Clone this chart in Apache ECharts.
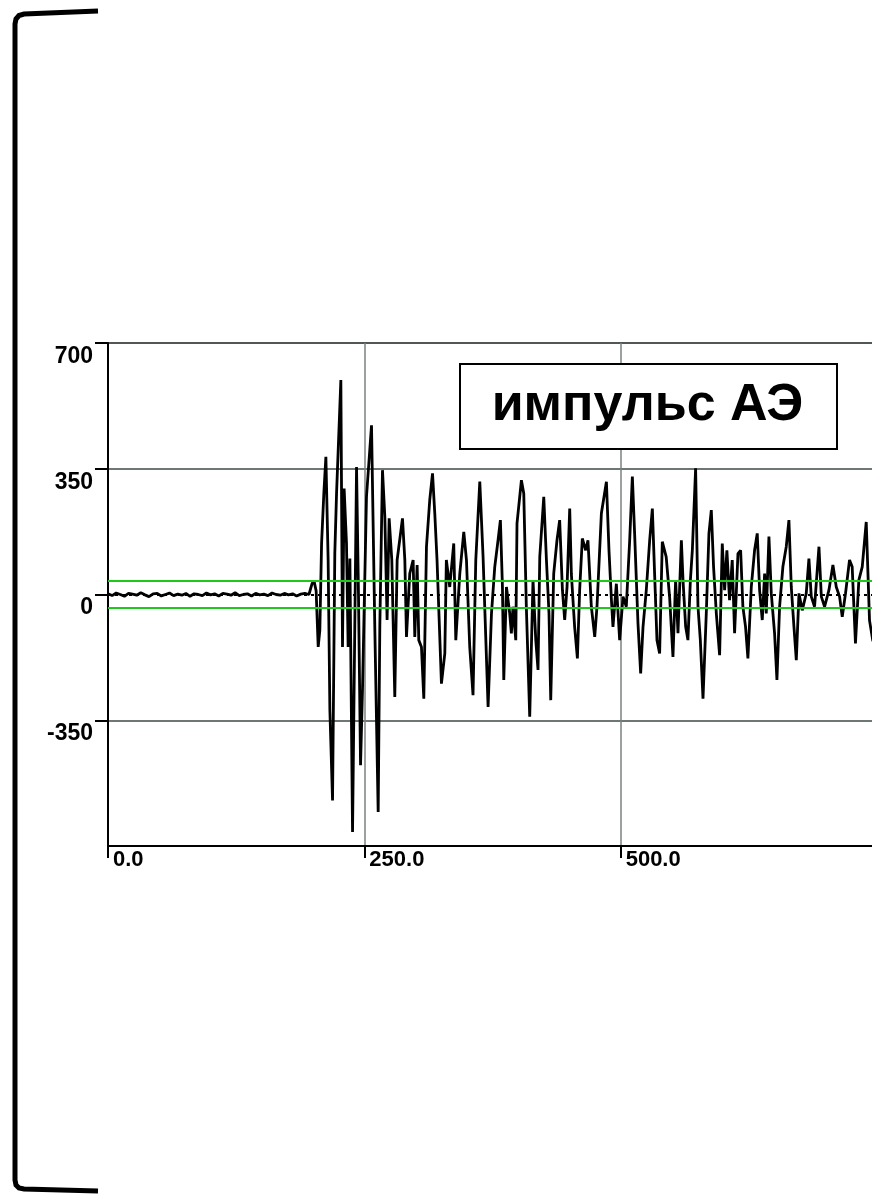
<!DOCTYPE html>
<html>
<head>
<meta charset="utf-8">
<title>импульс АЭ</title>
<script src="https://cdn.jsdelivr.net/npm/echarts@6/dist/echarts.min.js"></script>
<style>
    html, body { margin: 0; padding: 0; background: #fff; }
    #chart { width: 872px; height: 1195px; }
</style>
</head>
<body>
<div id="chart"></div>
<script>
// Время отсчёта (ось X)
const sampleTime = [
    0, 4, 8, 12, 16, 20, 24, 28, 32, 36,
    40, 44, 48, 52, 56, 60, 64, 68, 72, 76,
    80, 84, 88, 92, 96, 100, 104, 108, 112, 116,
    120, 124, 128, 132, 136, 140, 144, 148, 152, 156,
    160, 164, 168, 172, 176, 180, 184, 188, 192, 196,
    199, 201, 203, 205, 206.6, 208.3, 210.5, 212.5, 214.7, 216.4,
    219, 221.2, 222.9, 227.1, 228.7, 230.3, 232.6, 234.2, 235.9, 238.5,
    242.4, 244.3, 246.3, 248.2, 252.1, 257, 260.2, 263.5, 265.1, 267.7,
    270, 272.2, 274.2, 276.8, 279.7, 282, 287.2, 289.5, 291.1, 294.3,
    297.6, 299.2, 301.5, 303.1, 305.7, 308, 310.6, 313.8, 316.5, 318.7,
    320.9, 325.2, 328.5, 330, 333.3, 337.2, 339.2, 343.1, 347, 349.6,
    352.8, 356, 358.7, 362.6, 365.8, 370.7, 374, 377.2, 380.4, 382.7,
    384.7, 386, 388.6, 391.8, 393.4, 395, 397.7, 398.9, 403.2, 405.5,
    408, 411.3, 414.5, 417.2, 419.4, 421.1, 425, 427.6, 430.1, 431.8,
    434.7, 437.9, 440.5, 443.2, 445.4, 447.7, 450.3, 451.9, 455.1, 457.8,
    460, 462.6, 465.9, 468.1, 471.4, 474.7, 476.9, 481.2, 486.1, 488.6,
    491, 492.5, 495.8, 499, 502.3, 505.5, 508.8, 511.4, 513.6, 516.9,
    519.5, 521.8, 525, 528.3, 530.9, 533.1, 535.4, 538, 540.6, 544.4,
    547.8, 551, 553.6, 555.9, 559.2, 560.8, 563.4, 565.6, 568, 569.9,
    573.1, 575.4, 577.7, 580.3, 583.5, 586.1, 588.4, 590.6, 593.3, 596.5,
    599.1, 601.4, 603.6, 606.2, 608.8, 611.1, 614.4, 617, 619.2, 621.8,
    624.1, 627.4, 630.6, 633.2, 635.5, 638.1, 640.4, 642, 644.6, 646.9,
    650.1, 652.4, 655, 658.2, 661.5, 664.1, 666.4, 669, 671.3, 673.9,
    677.1, 681, 683.6, 685.9, 689.1, 693.4, 695.7, 698.9, 703.1, 707,
    710.3, 713.5, 716.1, 719.3, 723.2, 725.8, 729, 732.3, 735.6, 739.5,
    742.7, 746, 750
];

// Амплитуда сигнала
const amplitude = [
    2, -3, 4, 0, -5, 3, 1, -2, 5, -1,
    -6, 2, 3, -4, 0, 4, -3, 1, -2, 3,
    -5, 2, 0, -3, 4, -1, 2, -4, 3, 1,
    -2, 5, -3, 0, 2, -4, 3, -1, 1, -3,
    4, 0, -2, 3, -1, 2, -4, 1, 3, 0,
    30, 37, 10, -146, -100, 142, 281, 383, 96, -322,
    -573, 114, 281, 597, -146, 295, 142, -146, 100, -661,
    355, 0, -475, -266, 272, 471, -90, -605, -90, 346,
    216, -71, 212, 96, -285, 96, 212, 96, -118, 58,
    96, -118, 82, -127, -146, -290, 133, 263, 337, 226,
    96, -248, -164, 96, 21, 142, -127, 58, 174, 96,
    -146, -280, 96, 314, 105, -313, -53, 77, 151, 207,
    21, -238, 21, -53, -108, -34, -127, 198, 318, 281,
    -34, -340, 40, -127, -210, 105, 272, 96, -53, -294,
    58, 151, 207, 12, -71, 21, 239, 58, -90, -178,
    12, 156, 123, 151, -34, -118, -34, 226, 314, 123,
    -16, -90, 30, -127, -6, -34, 151, 328, 170, -81,
    -220, -90, 12, 151, 239, 58, -127, -164, 147, 105,
    -10, -174, 40, -108, 151, 40, -90, -127, 40, 123,
    351, -34, -127, -290, -53, 170, 235, 77, -53, -169,
    142, 12, 123, -16, 96, -108, 114, 123, -34, -90,
    -178, 21, 123, 170, 12, -71, 58, -53, 161, 3,
    -108, -238, -34, 77, 133, 207, 21, -90, -183, 3,
    -44, 3, 100, -6, -34, 133, -6, -34, 12, 82,
    21, -6, -62, 3, 96, 77, -136, 40, 77, 202,
    -72, -130, -60
];

const yTickValues = [-350, 0, 350, 700];
const thresholdLevel = 38;
const boxLabel = 'импульс АЭ';

document.addEventListener('DOMContentLoaded', () => {
    const chart = echarts.init(document.getElementById('chart'));
    const fontFamily = '"Liberation Sans", Arial, sans-serif';

    const option = {
        animation: false,
        backgroundColor: '#fff',
        grid: {
            left: 108,
            top: 343,
            width: 769,
            height: 503,
            outerBoundsMode: 'none'
        },
        xAxis: {
            type: 'value',
            min: 0,
            max: 750,
            interval: 250,
            axisLine: { show: true, onZero: false, lineStyle: { color: '#000', width: 2 } },
            axisTick: { show: true, length: 12, lineStyle: { color: '#000', width: 2 } },
            axisLabel: {
                formatter: v => v.toFixed(1),
                align: 'left',
                verticalAlign: 'top',
                margin: 3,
                padding: [0, 0, 0, 5],
                color: '#000',
                fontSize: 22,
                fontWeight: 'bold',
                fontFamily: fontFamily
            },
            splitLine: { show: true, lineStyle: { color: '#7a8282', width: 1.5 } }
        },
        yAxis: {
            type: 'value',
            min: -700,
            max: 700,
            interval: 350,
            axisLine: { show: true, lineStyle: { color: '#000', width: 2 } },
            axisTick: { show: true, length: 13, customValues: yTickValues, lineStyle: { color: '#000', width: 2 } },
            axisLabel: {
                customValues: yTickValues,
                formatter: v => String(v),
                verticalAlign: 'top',
                margin: 15,
                padding: [2, 0, 0, 0],
                color: '#000',
                fontSize: 23,
                fontWeight: 'bold',
                fontFamily: fontFamily
            },
            splitLine: {
                show: true,
                lineStyle: {
                    // -350, 0, 350, 700
                    color: ['#6e7676', 'rgba(0,0,0,0)', '#6e7676', '#4f5757'],
                    width: 2
                }
            }
        },
        series: [
            {
                name: 'АЭ',
                type: 'line',
                data: sampleTime.map((t, i) => [t, amplitude[i]]),
                symbol: 'none',
                lineStyle: { color: '#000', width: 2.8 },
                z: 3
            },
            {
                // пороговые уровни и нулевая линия
                type: 'line',
                data: [],
                z: 5,
                markLine: {
                    silent: true,
                    symbol: 'none',
                    label: { show: false },
                    data: [
                        { yAxis: thresholdLevel, lineStyle: { color: '#1ec81e', width: 2, type: 'solid' } },
                        { yAxis: -thresholdLevel, lineStyle: { color: '#1ec81e', width: 2, type: 'solid' } },
                        { yAxis: 0, lineStyle: { color: '#000', width: 2, type: [3, 4] } }
                    ]
                }
            }
        ],
        graphic: [
            {
                // скобка слева
                type: 'polyline',
                shape: {
                    points: [[98, 11], [24, 14], [19, 15.5], [16, 19], [15, 24], [15, 1180],
                             [16, 1185], [19, 1188], [24, 1189], [98, 1191]]
                },
                style: { fill: 'none', stroke: '#000', lineWidth: 5 }
            },
            {
                type: 'rect',
                left: 459,
                top: 363,
                z: 100,
                shape: { x: 0, y: 0, width: 377, height: 85 },
                style: { fill: '#fff', stroke: '#000', lineWidth: 2 }
            },
            {
                type: 'text',
                x: 647.5,
                y: 406,
                z: 101,
                style: {
                    text: boxLabel,
                    fill: '#000',
                    font: 'bold 52px ' + fontFamily,
                    textAlign: 'center',
                    textVerticalAlign: 'middle'
                }
            }
        ]
    };

    chart.setOption(option);
    window.addEventListener('resize', () => chart.resize());
});
</script>
</body>
</html>
